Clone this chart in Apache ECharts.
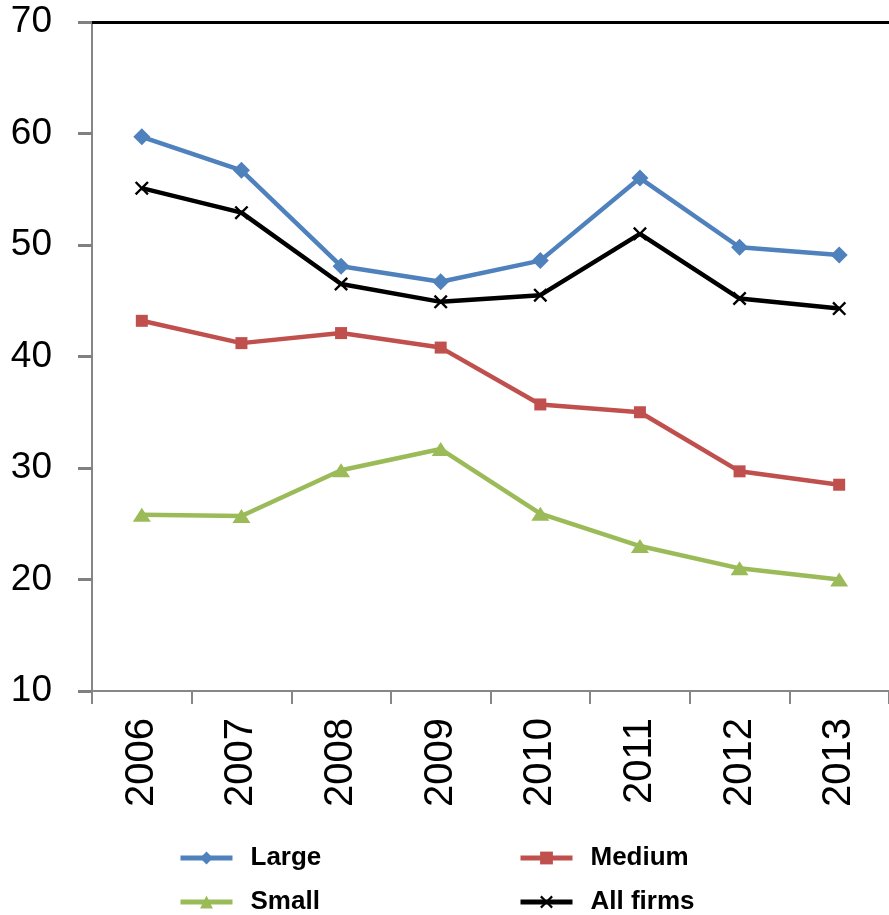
<!DOCTYPE html>
<html>
<head>
<meta charset="utf-8">
<script src="https://cdn.jsdelivr.net/npm/echarts@6/dist/echarts.min.js"></script>
<style>html,body{margin:0;padding:0;background:#fff}#c{width:889px;height:915px}</style>
</head>
<body>
<div id="c"></div>
<script>
var years = ['2006','2007','2008','2009','2010','2011','2012','2013'];
var large = [59.7, 56.7, 48.1, 46.7, 48.6, 56.0, 49.8, 49.1];
var medium = [43.2, 41.2, 42.1, 40.8, 35.7, 35.0, 29.7, 28.5];
var small = [25.8, 25.7, 29.8, 31.7, 25.9, 23.0, 21.0, 20.0];
var allFirms = [55.1, 52.9, 46.5, 44.9, 45.5, 51.0, 45.2, 44.3];
var yTicks = [10, 20, 30, 40, 50, 60, 70];

var xPath = 'path://M0,1.2 L1.2,0 L5,3.8 L8.8,0 L10,1.2 L6.2,5 L10,8.8 L8.8,10 L5,6.2 L1.2,10 L0,8.8 L3.8,5 Z';

var chart = echarts.init(document.getElementById('c'), null, {renderer: 'canvas'});
function leg(name, left, top) {
  return {
    data: [name], left: left, top: top, orient: 'horizontal',
    itemWidth: 52, itemHeight: 16, padding: 0,
    lineStyle: {width: 5},
    textStyle: {fontFamily: 'Liberation Sans', fontWeight: 'bold', fontSize: 26, color: '#000', padding: [0, 0, 0, 13]}
  };
}
chart.setOption({
  animation: false,
  backgroundColor: '#fff',
  grid: {left: 92, top: 22, right: -9, bottom: 224, containLabel: false},
  legend: [
    leg('Large', 178, 845),
    leg('Small', 178, 889),
    leg('Medium', 518, 845),
    leg('All firms', 518, 889)
  ],
  xAxis: [{
    type: 'category', data: years, boundaryGap: true, position: 'bottom',
    axisLine: {show: true, lineStyle: {color: '#868686', width: 2}},
    axisTick: {show: true, length: 13, lineStyle: {color: '#868686', width: 2}},
    axisLabel: {rotate: 90, margin: 27, fontFamily: 'Liberation Sans', fontSize: 40, color: '#000'}
  }, {
    type: 'category', data: years, position: 'top',
    axisLine: {show: true, lineStyle: {color: '#000', width: 3}},
    axisTick: {show: false}, axisLabel: {show: false}
  }],
  yAxis: {
    type: 'value', min: yTicks[0], max: yTicks[yTicks.length - 1], interval: 10, position: 'left',
    axisLine: {show: true, onZero: false, lineStyle: {color: '#868686', width: 2}},
    axisTick: {show: true, length: 14, lineStyle: {color: '#808080', width: 3}},
    splitLine: {show: false},
    axisLabel: {margin: 40, fontFamily: 'Liberation Sans', fontSize: 37, color: '#000'}
  },
  series: [
    {name: 'Large', type: 'line', data: large, symbol: 'diamond', symbolSize: 17,
      lineStyle: {color: '#4F81BD', width: 4.5}, itemStyle: {color: '#4F81BD'}},
    {name: 'Medium', type: 'line', data: medium, symbol: 'rect', symbolSize: 12,
      lineStyle: {color: '#C0504D', width: 4.5}, itemStyle: {color: '#C0504D'}},
    {name: 'Small', type: 'line', data: small, symbol: 'triangle', symbolSize: [18, 14],
      lineStyle: {color: '#9BBB59', width: 4.5}, itemStyle: {color: '#9BBB59'}},
    {name: 'All firms', type: 'line', data: allFirms, symbol: xPath, symbolSize: 14,
      lineStyle: {color: '#000', width: 4.5}, itemStyle: {color: '#000'}}
  ]
});
</script>
</body>
</html>
